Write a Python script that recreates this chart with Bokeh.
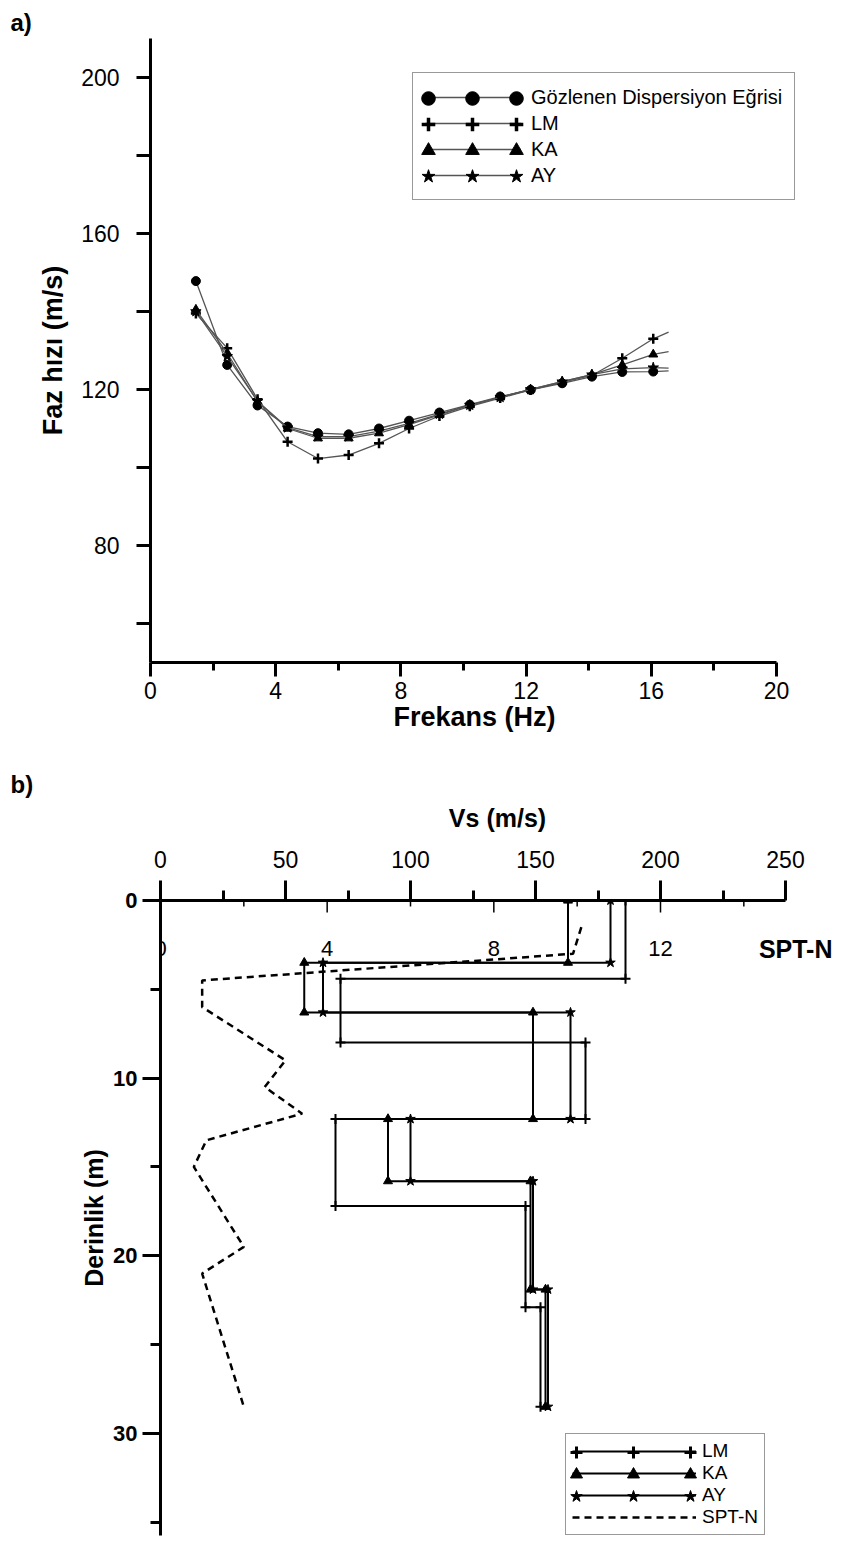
import numpy as np
from bokeh.plotting import figure
from bokeh.models import Range1d, FixedTicker, Legend, LegendItem, Label
from bokeh.embed import file_html
from bokeh.resources import INLINE
from bokeh.core.properties import value

FONT = "Liberation Sans"

# ---------------- panel a data ----------------
freq = [1.45, 2.45, 3.42, 4.38, 5.35, 6.33, 7.3, 8.26, 9.23, 10.2, 11.17, 12.14, 13.15, 14.1, 15.07, 16.06]
tail_freq = 16.55
observed = [147.8, 126.3, 115.9, 110.5, 108.8, 108.5, 110.0, 112.0, 114.1, 116.1, 118.2, 119.9, 121.6, 123.3, 124.5, 124.6]
observed_tail = 124.8
lm_phase = [139.5, 130.6, 117.5, 106.6, 102.3, 103.2, 106.2, 110.0, 113.2, 115.7, 117.8, 119.9, 121.8, 123.6, 128.0, 133.0]
lm_tail = 134.7
ka_phase = [140.5, 129.3, 116.9, 110.0, 107.5, 107.5, 108.8, 111.0, 113.5, 116.0, 118.0, 120.0, 122.0, 123.8, 126.3, 129.0]
ka_tail = 129.7
ay_phase = [140.0, 128.5, 117.0, 110.2, 107.9, 107.9, 109.3, 111.3, 113.7, 116.0, 118.0, 120.0, 122.0, 123.8, 125.3, 125.6]
ay_tail = 125.5
freq_ticks = [0, 4, 8, 12, 16, 20]
freq_minor = [2, 6, 10, 14, 18]
vel_ticks = [80, 120, 160, 200]
vel_minor = [60, 100, 140, 180]

# ---------------- panel b data ----------------
lm_vs = [186, 72, 170, 70, 146, 152]
lm_base = [4.4, 8.0, 12.3, 17.2, 22.9, 28.5]
ka_vs = [163, 57.5, 149, 91, 148, 154]
ka_base = [3.5, 6.3, 12.3, 15.8, 21.9, 28.5]
ay_vs = [180, 65, 164, 100, 149, 155]
ay_base = [3.5, 6.3, 12.3, 15.8, 21.9, 28.5]
spt_depth = [1.5, 3.0, 4.5, 6.0, 9.0, 10.5, 12.0, 13.5, 15.0, 19.5, 21.0, 28.5]
spt_n = [10.1, 9.9, 1.0, 1.0, 3.0, 2.5, 3.4, 1.1, 0.8, 2.0, 1.0, 2.0]
vs_ticks = [0, 50, 100, 150, 200, 250]
vs_minor = [25, 75, 125, 175, 225]
depth_ticks = [0, 10, 20, 30]
depth_minor = [5, 15, 25, 35]
spt_major = [0, 4, 8, 12]
spt_minor = [2, 6, 10, 14]

NAN = np.array([np.nan])


def style_axis(ax, major_out, minor_out, label_size, bold_labels=False, title_size="24px"):
    ax.axis_line_width = 3
    ax.axis_line_color = "black"
    ax.major_tick_line_width = 3
    ax.minor_tick_line_width = 3
    ax.major_tick_line_color = "black"
    ax.minor_tick_line_color = "black"
    ax.major_tick_in = 0
    ax.minor_tick_in = 0
    ax.major_tick_out = major_out
    ax.minor_tick_out = minor_out
    ax.major_label_text_font = FONT
    ax.major_label_text_font_size = label_size
    ax.major_label_text_color = "black"
    ax.major_label_text_font_style = "bold" if bold_labels else "normal"
    ax.axis_label_text_font = FONT
    ax.axis_label_text_font_style = "bold"
    ax.axis_label_text_font_size = title_size
    ax.axis_label_text_color = "black"


def style_title(p, text, offset):
    p.title.text = text
    p.title.align = "left"
    p.title.offset = offset
    p.title.text_font = FONT
    p.title.text_font_size = "24px"
    p.title.text_font_style = "bold"
    p.title.text_color = "black"
    p.title.standoff = 6


def marker_legends(p, proxies, col_centers, row_centers, glyph, font_size):
    # one single-item legend per marker, so three markers sit along each legend line
    for r, cy in zip(proxies, row_centers):
        for cx in col_centers:
            p.add_layout(Legend(items=[LegendItem(label=" ", renderers=[r])],
                                location=(cx - glyph / 2, cy - glyph / 2), padding=0,
                                glyph_width=glyph, glyph_height=glyph, label_standoff=0,
                                label_text_font=FONT, label_text_font_size=font_size,
                                label_text_alpha=0, label_height=10, label_width=1, margin=0,
                                border_line_alpha=0, background_fill_alpha=0))


# ================= panel a =================
p1 = figure(width=826, height=740, x_range=Range1d(0, 20.7), y_range=Range1d(50, 210),
            output_backend="svg", toolbar_location=None,
            min_border_left=150, min_border_right=28, min_border_top=38, min_border_bottom=78,
            x_axis_label="Frekans (Hz)", y_axis_label="Faz hızı (m/s)")
p1.grid.visible = False
p1.outline_line_color = None
p1.background_fill_color = "white"
p1.border_fill_color = "white"
style_title(p1, "a)", -140)

xa = p1.xaxis[0]
xa.ticker = FixedTicker(ticks=freq_ticks, minor_ticks=freq_minor)
xa.bounds = (0, 20)
style_axis(xa, 14, 8, "23px", title_size="27px")
xa.major_label_standoff = 5
xa.axis_label_standoff = 0

ya = p1.yaxis[0]
ya.ticker = FixedTicker(ticks=vel_ticks, minor_ticks=vel_minor)
ya.bounds = (50, 210)
style_axis(ya, 14, 14, "23px", title_size="27px")
ya.major_label_standoff = 17
ya.axis_label_standoff = 10

series_a = [
    ("Gözlenen Dispersiyon Eğrisi", observed, observed_tail, "circle", 9),
    ("LM", lm_phase, lm_tail, "cross", 10),
    ("KA", ka_phase, ka_tail, "triangle", 9),
    ("AY", ay_phase, ay_tail, "star", 11),
]
names_a, lines_a, proxies_a = [], [], []
for name, vals, tail, marker, size in series_a:
    ln = p1.line(freq + [tail_freq], vals + [tail], line_color="#555555", line_width=1.3)
    p1.scatter(freq, vals, marker=marker, size=size, fill_color="black", line_color="black",
               line_width=2.5 if marker == "cross" else 1)
    px = p1.scatter(NAN, NAN, marker=marker, size=14, fill_color="black", line_color="black",
                    line_width=3.5 if marker == "cross" else 1)
    names_a.append(name)
    lines_a.append(ln)
    proxies_a.append(px)

# legend box: frame-relative (x from left, y from bottom); rows 26 px apart
leg_a = Legend(items=[LegendItem(label=n, renderers=[r]) for n, r in zip(names_a, lines_a)],
               location=(262, 462), padding=12, spacing=2, glyph_width=96, glyph_height=24,
               label_standoff=10, label_text_font=FONT, label_text_font_size="20px",
               label_text_color="black", label_height=20, margin=0,
               border_line_color="#333333", border_line_width=1.5, background_fill_color="white")
p1.add_layout(leg_a)
marker_legends(p1, proxies_a, col_centers=[278, 322, 366], row_centers=[564, 538, 512, 486],
               glyph=34, font_size="20px")

# ================= panel b =================
DEPTH_END = 35.75
VS_END = 269.6
p2 = figure(width=834, height=796, x_range=Range1d(0, VS_END), y_range=Range1d(DEPTH_END, 0),
            output_backend="svg", toolbar_location=None, x_axis_location="above",
            min_border_left=160, min_border_right=0, min_border_top=160, min_border_bottom=1,
            x_axis_label="Vs (m/s)", y_axis_label="Derinlik (m)")
p2.grid.visible = False
p2.outline_line_color = None
p2.background_fill_color = "white"
p2.border_fill_color = "white"
p2.extra_x_ranges = {"spt": Range1d(0, VS_END * 15 / 250)}
style_title(p2, "b)", -150)

ta = p2.xaxis[0]
ta.ticker = FixedTicker(ticks=vs_ticks, minor_ticks=vs_minor)
ta.bounds = (-8, 250)
style_axis(ta, 20, 10, "23px", title_size="25px")
ta.major_label_standoff = 13
ta.axis_label_standoff = 16

la = p2.yaxis[0]
la.ticker = FixedTicker(ticks=depth_ticks, minor_ticks=depth_minor)
la.bounds = (0, DEPTH_END)
style_axis(la, 18, 10, "22px", bold_labels=True, title_size="25px")
la.major_label_standoff = 5
la.axis_label_standoff = 2

# SPT-N scale drawn on the top axis line (ticks pointing down, labels below)
TICK_MAJ = 0.68
TICK_MIN = 0.34
p2.segment(x0=spt_major, y0=[0] * len(spt_major), x1=spt_major, y1=[TICK_MAJ] * len(spt_major),
           x_range_name="spt", line_color="black", line_width=1.5)
p2.segment(x0=spt_minor, y0=[0] * len(spt_minor), x1=spt_minor, y1=[TICK_MIN] * len(spt_minor),
           x_range_name="spt", line_color="black", line_width=1.5)
p2.text(x=spt_major, y=[0] * len(spt_major), text=[str(t) for t in spt_major], x_range_name="spt",
        text_font=value(FONT), text_font_size="22px", text_align="center", text_baseline="middle",
        y_offset=48, text_color="black")
p2.add_layout(Label(x=672, y=587, x_units="screen", y_units="screen", text="SPT-N",
                    text_font=FONT, text_font_size="25px", text_font_style="bold",
                    text_color="black", text_align="right", text_baseline="middle"))

spt_line = p2.line(spt_n, spt_depth, x_range_name="spt", line_color="black", line_width=2.5,
                   line_dash="7 5")

models_b = [("LM", lm_vs, lm_base, "cross", 10), ("KA", ka_vs, ka_base, "triangle", 9),
            ("AY", ay_vs, ay_base, "star", 10)]
names_b, lines_b, proxies_b = [], [], []
for name, vs, base, marker, size in models_b:
    xs, ys = [], []
    top = 0.0
    for v, b in zip(vs, base):
        xs += [v, v]
        ys += [top, b]
        top = b
    ln = p2.line(xs, ys, line_color="black", line_width=2)
    p2.scatter(xs, ys, marker=marker, size=size, fill_color="black", line_color="black",
               line_width=2 if marker == "cross" else 1)
    px = p2.scatter(NAN, NAN, marker=marker, size=12, fill_color="black", line_color="black",
                    line_width=3 if marker == "cross" else 1)
    names_b.append(name)
    lines_b.append(ln)
    proxies_b.append(px)
names_b.append("SPT-N")
lines_b.append(spt_line)

leg_b = Legend(items=[LegendItem(label=n, renderers=[r]) for n, r in zip(names_b, lines_b)],
               location=(405, 0), padding=6, spacing=0, glyph_width=124, glyph_height=22,
               label_standoff=6, label_text_font=FONT, label_text_font_size="19px",
               label_text_color="black", label_height=20, margin=0,
               border_line_color="#333333", border_line_width=1.5, background_fill_color="white")
p2.add_layout(leg_b)
marker_legends(p2, proxies_b, col_centers=[416, 473, 530], row_centers=[83, 61, 39],
               glyph=30, font_size="19px")

open("out.html", "w").write(file_html([p1, p2], INLINE))
